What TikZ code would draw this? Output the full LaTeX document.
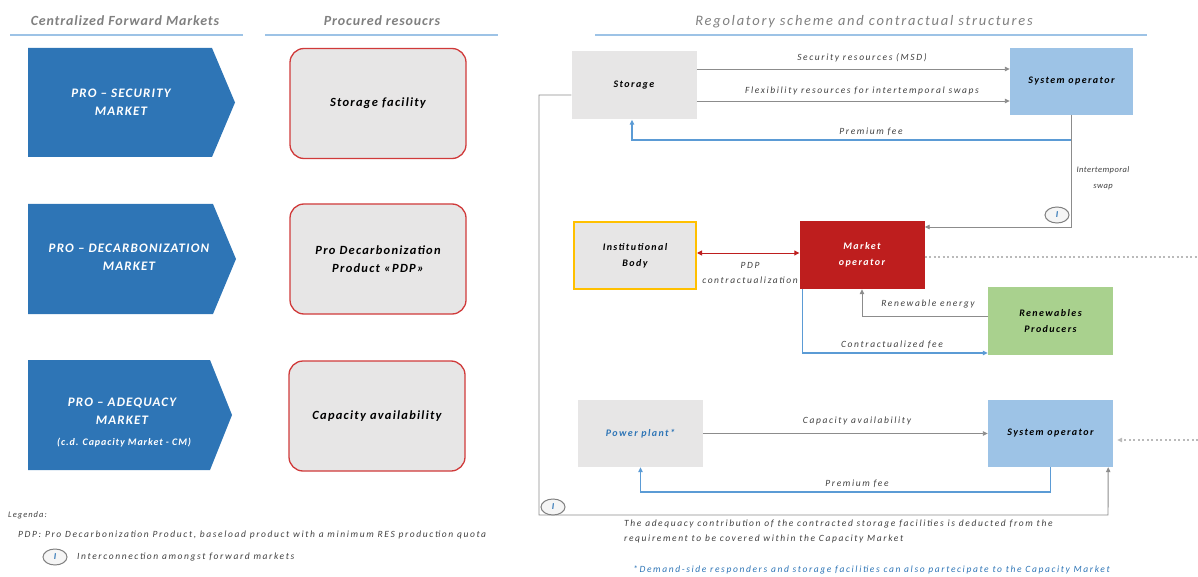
\documentclass[tikz,border=0pt]{standalone}
\usepackage{fontspec}
\setmainfont{Carlito}
\usetikzlibrary{shapes.geometric,arrows.meta}
\definecolor{mblue}{HTML}{2E75B6}
\definecolor{lblue}{HTML}{9DC3E6}
\definecolor{boxgray}{HTML}{E7E6E6}
\definecolor{redline}{HTML}{D03A3A}
\definecolor{mored}{HTML}{BE1E1E}
\definecolor{rgreen}{HTML}{A9D18E}
\definecolor{ibgold}{HTML}{FFC000}
\definecolor{txtgray}{HTML}{404040}
\definecolor{hdrgray}{HTML}{808080}
\definecolor{lnblue}{HTML}{5B9BD5}
\definecolor{lngray}{HTML}{8C8C8C}
\begin{document}
\begin{tikzpicture}[x=1pt,y=-1pt,
  hdr/.style={font=\fontsize{14}{15}\selectfont\bfseries\itshape\addfontfeatures{LetterSpace=6}, text=hdrgray},
  hline/.style={draw=lblue, line width=1.6pt},
  mkt/.style={font=\fontsize{13}{18}\selectfont\bfseries\itshape\addfontfeatures{LetterSpace=9}, text=white, align=center},
  resbox/.style={draw=redline, line width=1.3pt, fill=boxgray, rounded corners=14pt, minimum width=176pt, minimum height=110pt, inner sep=0pt, align=center, font=\fontsize{12.5}{18}\selectfont\bfseries\itshape\addfontfeatures{LetterSpace=10}},
  ent/.style={minimum width=125pt, minimum height=68pt, inner sep=0pt, align=center, font=\fontsize{10}{16}\selectfont\bfseries\itshape\addfontfeatures{LetterSpace=14}},
  lbl/.style={font=\fontsize{9.5}{15}\selectfont\itshape\addfontfeatures{LetterSpace=17}, text=txtgray, inner sep=1pt},
  garrow/.style={draw=lngray, line width=0.9pt, -{Triangle[length=5pt,width=4.5pt]}},
  barrow/.style={draw=lnblue, line width=1.2pt, -{Triangle[length=5pt,width=4.5pt]}},
  rarrow/.style={draw=mored, line width=1pt, {Triangle[length=5pt,width=5pt]}-{Triangle[length=5pt,width=5pt]}},
  gdot/.style={draw=lngray!60, line width=1.2pt, dash pattern=on 2pt off 2.5pt},
  ilink/.style={ellipse, draw=gray, line width=1pt, fill=gray!8, minimum width=24pt, minimum height=16pt, inner sep=0pt, font=\fontsize{9}{10}\selectfont\bfseries\itshape, text=mblue},
]
\useasboundingbox (0,0) rectangle (1198,577);

% headers
\node[hdr] (h1) at (125,21) {Centralized Forward Markets};
\draw[hline] (10,35) -- (243,35);
\node[hdr] (h2) at (382,21) {Procured resoucrs};
\draw[hline] (265,35) -- (498,35);
\node[hdr, font=\fontsize{14.5}{15}\selectfont\itshape\addfontfeatures{LetterSpace=12}] (h3) at (864,22) {Regolatory scheme and contractual structures};
\draw[hline] (595,35) -- (1147,35);

% market pentagons
\fill[mblue] (28,48) -- (212,48) -- (235,102.5) -- (212,157) -- (28,157) -- cycle;
\node[mkt] (m1) at (121,102) {PRO – SECURITY\\MARKET};
\fill[mblue] (28,204) -- (213,204) -- (236,259) -- (213,314) -- (28,314) -- cycle;
\node[mkt] (m2) at (129,257) {PRO – DECARBONIZATION\\MARKET};
\fill[mblue] (28,360) -- (210,360) -- (232,415) -- (210,470) -- (28,470) -- cycle;
\node[mkt] (m3) at (122,411) {PRO – ADEQUACY\\MARKET};
\node[mkt, font=\fontsize{10}{12}\selectfont\bfseries\itshape\addfontfeatures{LetterSpace=9}] (m3b) at (124,443) {(c.d. Capacity Market - CM)};

% resource boxes
\node[resbox] (r1) at (378,103.5) {Storage facility};
\node[resbox] (r2) at (378,259) {Pro Decarbonization\\Product «PDP»};
\node[resbox] (r3) at (377,416) {Capacity availability};

% legend
\node[lbl, anchor=west, font=\fontsize{8.5}{10}\selectfont\itshape\addfontfeatures{LetterSpace=12}] (lg0) at (7,515) {Legenda:};
\node[lbl, anchor=west] (lg1) at (17,535) {PDP: Pro Decarbonization Product, baseload product with a minimum RES production quota};
\node[ilink] (lgI) at (55,557) {I};
\node[lbl, anchor=west] (lg2) at (76,557) {Interconnection amongst forward markets};

% entities
\node[ent, fill=boxgray] (sto) at (634,85.5) {Storage};
\node[ent, fill=lblue, minimum width=123pt, minimum height=67pt] (so1) at (1071.5,81.5) {System operator};
\node[ent, fill=boxgray, draw=ibgold, line width=2pt, minimum width=122pt, minimum height=67pt] (ib) at (635,255.5) {Institutional\\Body};
\node[ent, fill=mored, text=white] (mo) at (862,255) {Market\\operator};
\node[ent, fill=rgreen] (rp) at (1050.5,321) {Renewables\\Producers};
\node[ent, fill=boxgray, text=mblue, minimum height=67pt] (pp) at (640.5,433.5) {Power plant*};
\node[ent, fill=lblue, minimum height=67pt] (so2) at (1050.5,433.5) {System operator};
\coordinate (re1) at (1198,257);
\coordinate (re2) at (1198,440);

% top connectors
\draw[garrow] (sto.east |- 0,69) -- (so1.west |- 0,69);
\node[lbl] (l1) at (862,58) {Security resources (MSD)};
\draw[garrow] (sto.east |- 0,101) -- (so1.west |- 0,101);
\node[lbl] (l2) at (862,91) {Flexibility resources for intertemporal swaps};
\draw[barrow] (so1.south) |- (632,140) -- (sto.south -| 632,0);
\node[lbl] (l3) at (871,132) {Premium fee};
\draw[garrow] (so1.south) |- (mo.east |- 0,227);
\node[lbl, align=center, font=\fontsize{8.5}{16}\selectfont\itshape\addfontfeatures{LetterSpace=5}] (l4) at (1103,178) {Intertemporal\\swap};
\node[ilink] (i1) at (1057,215) {I};

% middle connectors
\draw[rarrow] (ib.east |- 0,253) -- (mo.west |- 0,253);
\node[lbl, align=center] (l5) at (750,273) {PDP\\contractualization};
\draw[gdot] (mo.east |- 0,257) -- (re1);
\draw[garrow] (rp.west |- 0,316) -| (mo.south);
\node[lbl] (l6) at (928,304) {Renewable energy};
\draw[barrow] ([xshift=3pt]mo.south west) |- (rp.west |- 0,353);
\node[lbl] (l7) at (892,345) {Contractualized fee};

% bottom connectors
\draw[garrow] (pp.east) -- (so2.west);
\node[lbl] (l8) at (857,421) {Capacity availability};
\draw[gdot, -{Triangle[length=5pt,width=4.5pt]}] (re2) -- ([xshift=4pt]so2.east |- 0,440);
\draw[barrow] (so2.south) |- (pp.south |- 0,492) -- (pp.south);
\node[lbl] (l9) at (857,484) {Premium fee};

% big loop
\draw[garrow] (sto.west |- 0,95) -- (539,95) -- (539,515) -- (1108,515) -- ([xshift=-5pt]so2.south east);
\node[ilink] (i2) at (553,507) {I};

% notes
\node[lbl, anchor=north west, align=left] (n1) at (623,519) {The adequacy contribution of the contracted storage facilities is deducted from the\\requirement to be covered within the Capacity Market};
\node[lbl, text=mblue, anchor=west] (n2) at (632,570) {*Demand-side responders and storage facilities can also partecipate to the Capacity Market};
\end{tikzpicture}
\end{document}
